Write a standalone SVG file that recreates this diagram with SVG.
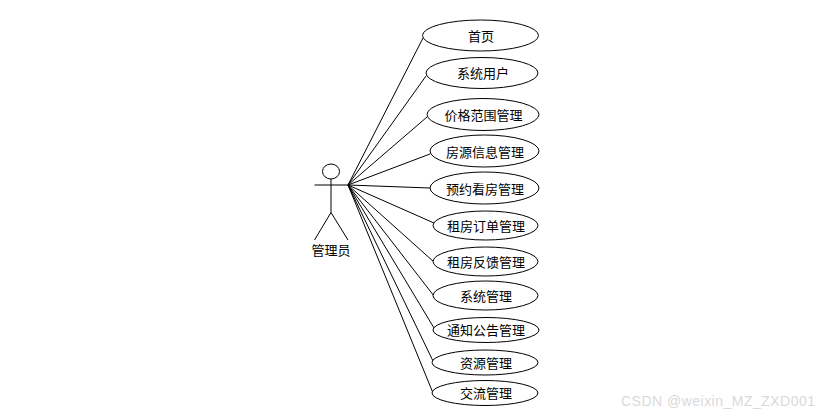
<svg xmlns="http://www.w3.org/2000/svg" width="826" height="417" viewBox="0 0 826 417">
<style>
.s{fill:none;stroke:#000;stroke-width:1}
.u{fill:#fff;stroke:#000;stroke-width:1}
.t{font-family:"Noto Sans CJK SC","Liberation Sans",sans-serif;font-size:13px;fill:#000;text-anchor:middle}
.w{font-family:"Liberation Sans",sans-serif;font-size:14px;fill:#d9d9d9;text-anchor:start}
</style>
<rect width="826" height="417" fill="#fff"/>
<g id="connectors" class="s">
<line x1="348" y1="185" x2="423" y2="38"/>
<line x1="348" y1="185" x2="426" y2="76"/>
<line x1="348" y1="185" x2="427" y2="117"/>
<line x1="348" y1="185" x2="430" y2="154"/>
<line x1="348" y1="185" x2="430" y2="188"/>
<line x1="348" y1="185" x2="434" y2="223"/>
<line x1="348" y1="185" x2="434" y2="262"/>
<line x1="348" y1="185" x2="434" y2="296"/>
<line x1="348" y1="185" x2="434" y2="328"/>
<line x1="348" y1="185" x2="433" y2="361"/>
<line x1="348" y1="185" x2="433" y2="393"/>
</g>
<g id="actor">
<ellipse class="s" cx="331" cy="171.5" rx="8.5" ry="7.5"/>
<path class="s" d="M331 179V212.500M314.500 185H348M331 212.500L314.500 240M331 212.500L348 240"/>
<text class="t" x="331" y="255">管理员</text>
</g>
<g id="uc1"><ellipse class="u" cx="480.500" cy="35.500" rx="58" ry="15.500"/><text class="t" x="481" y="40.500">首页</text></g>
<g id="uc2"><ellipse class="u" cx="482" cy="73" rx="56" ry="15.500"/><text class="t" x="483" y="78">系统用户</text></g>
<g id="uc3"><ellipse class="u" cx="483" cy="114.500" rx="56" ry="16"/><text class="t" x="483.500" y="119.500">价格范围管理</text></g>
<g id="uc4"><ellipse class="u" cx="484.500" cy="151" rx="54.500" ry="16"/><text class="t" x="485" y="156.500">房源信息管理</text></g>
<g id="uc5"><ellipse class="u" cx="484.500" cy="188" rx="54.500" ry="16"/><text class="t" x="485" y="193.500">预约看房管理</text></g>
<g id="uc6"><ellipse class="u" cx="485.500" cy="225.500" rx="52.500" ry="14.500"/><text class="t" x="486" y="230.500">租房订单管理</text></g>
<g id="uc7"><ellipse class="u" cx="485.500" cy="261.500" rx="52.500" ry="14.500"/><text class="t" x="486" y="266.500">租房反馈管理</text></g>
<g id="uc8"><ellipse class="u" cx="485.500" cy="295.500" rx="52.500" ry="14.500"/><text class="t" x="486" y="300.500">系统管理</text></g>
<g id="uc9"><ellipse class="u" cx="486" cy="330" rx="53" ry="12.500"/><text class="t" x="486" y="335">通知公告管理</text></g>
<g id="uc10"><ellipse class="u" cx="485" cy="362.500" rx="53" ry="12.500"/><text class="t" x="486" y="367.500">资源管理</text></g>
<g id="uc11"><ellipse class="u" cx="485" cy="393" rx="53" ry="12.500"/><text class="t" x="486" y="398">交流管理</text></g>
<text class="w" x="621" y="406" textLength="194">CSDN @weixin_MZ_ZXD001</text>
</svg>
